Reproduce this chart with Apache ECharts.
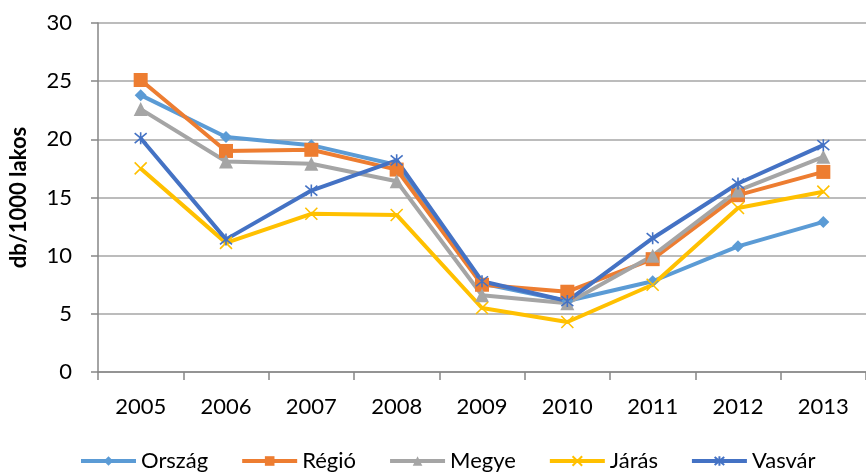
<!DOCTYPE html>
<html>
<head>
<meta charset="utf-8">
<script src="https://cdn.jsdelivr.net/npm/echarts@6/dist/echarts.min.js"></script>
<style>
  html, body { margin: 0; padding: 0; background: #fff; }
  #chart { width: 866px; height: 475px; }
</style>
</head>
<body>
<div id="chart"></div>
<script>
const years = ['2005', '2006', '2007', '2008', '2009', '2010', '2011', '2012', '2013'];
const orszag = [23.8, 20.2, 19.5, 17.8, 7.6, 6.1, 7.8, 10.8, 12.9];
const regio  = [25.1, 19.0, 19.1, 17.4, 7.5, 6.9, 9.7, 15.2, 17.2];
const megye  = [22.6, 18.1, 17.9, 16.4, 6.6, 5.9, 10.0, 15.6, 18.5];
const jaras  = [17.5, 11.1, 13.6, 13.5, 5.5, 4.3, 7.5, 14.1, 15.5];
const vasvar = [20.1, 11.4, 15.6, 18.2, 7.8, 6.1, 11.5, 16.2, 19.5];
const yTicks = [0, 5, 10, 15, 20, 25, 30];

const FONT = 'Lato, "Open Sans", sans-serif';
const crossPath = 'path://M0,0L10,10M10,0L0,10';
const starPath = 'path://M0,0L10,10M10,0L0,10M5,-1L5,11';

function lineSeries(name, data, color, symbol, size, stroked) {
  return {
    name: name,
    type: 'line',
    data: data,
    symbol: symbol,
    symbolSize: size,
    lineStyle: { color: color, width: 4 },
    itemStyle: stroked
      ? { color: 'rgba(0,0,0,0)', borderColor: color, borderWidth: 1.6 }
      : { color: color, borderWidth: 0 },
    emphasis: { disabled: true },
    animation: false
  };
}

const chart = echarts.init(document.getElementById('chart'), null, { renderer: 'canvas' });
chart.setOption({
  backgroundColor: '#fff',
  textStyle: { fontFamily: FONT },
  grid: { left: 96, right: -9, top: 23, bottom: 103, containLabel: false },
  legend: {
    bottom: -2,
    left: 74,
    itemWidth: 55,
    itemHeight: 12,
    itemGap: 32,
    lineStyle: { width: 4 },
    textStyle: { fontFamily: FONT, fontSize: 22, color: '#000' },
    data: ['Ország', 'Régió', 'Megye', 'Járás', 'Vasvár']
  },
  xAxis: {
    type: 'category',
    data: years,
    boundaryGap: true,
    axisLine: { lineStyle: { color: '#868686', width: 1.5 } },
    axisTick: { show: true, length: 8, inside: false, lineStyle: { color: '#868686', width: 1.5 } },
    axisLabel: { fontFamily: FONT, fontSize: 22, color: '#000', margin: 24 }
  },
  yAxis: {
    type: 'value',
    min: yTicks[0],
    max: yTicks[yTicks.length - 1],
    interval: 5,
    name: 'db/1000 lakos',
    nameLocation: 'middle',
    nameGap: 68,
    nameRotate: 90,
    nameTextStyle: { fontFamily: FONT, fontSize: 22, fontWeight: 'bold', color: '#000' },
    axisLine: { show: true, lineStyle: { color: '#868686', width: 1.5 } },
    axisTick: { show: true, length: 7, lineStyle: { color: '#868686', width: 1.5 } },
    axisLabel: { fontFamily: FONT, fontSize: 22, color: '#000', margin: 26 },
    splitLine: { lineStyle: { color: '#a6a6a6', width: 1.5 } }
  },
  series: [
    lineSeries('Ország', orszag, '#5B9BD5', 'diamond', 12, false),
    lineSeries('Régió', regio, '#ED7D31', 'rect', 14, false),
    lineSeries('Megye', megye, '#A5A5A5', 'triangle', 14, false),
    lineSeries('Járás', jaras, '#FFC000', crossPath, 12, true),
    lineSeries('Vasvár', vasvar, '#4472C4', starPath, 12, true)
  ]
});
</script>
</body>
</html>
